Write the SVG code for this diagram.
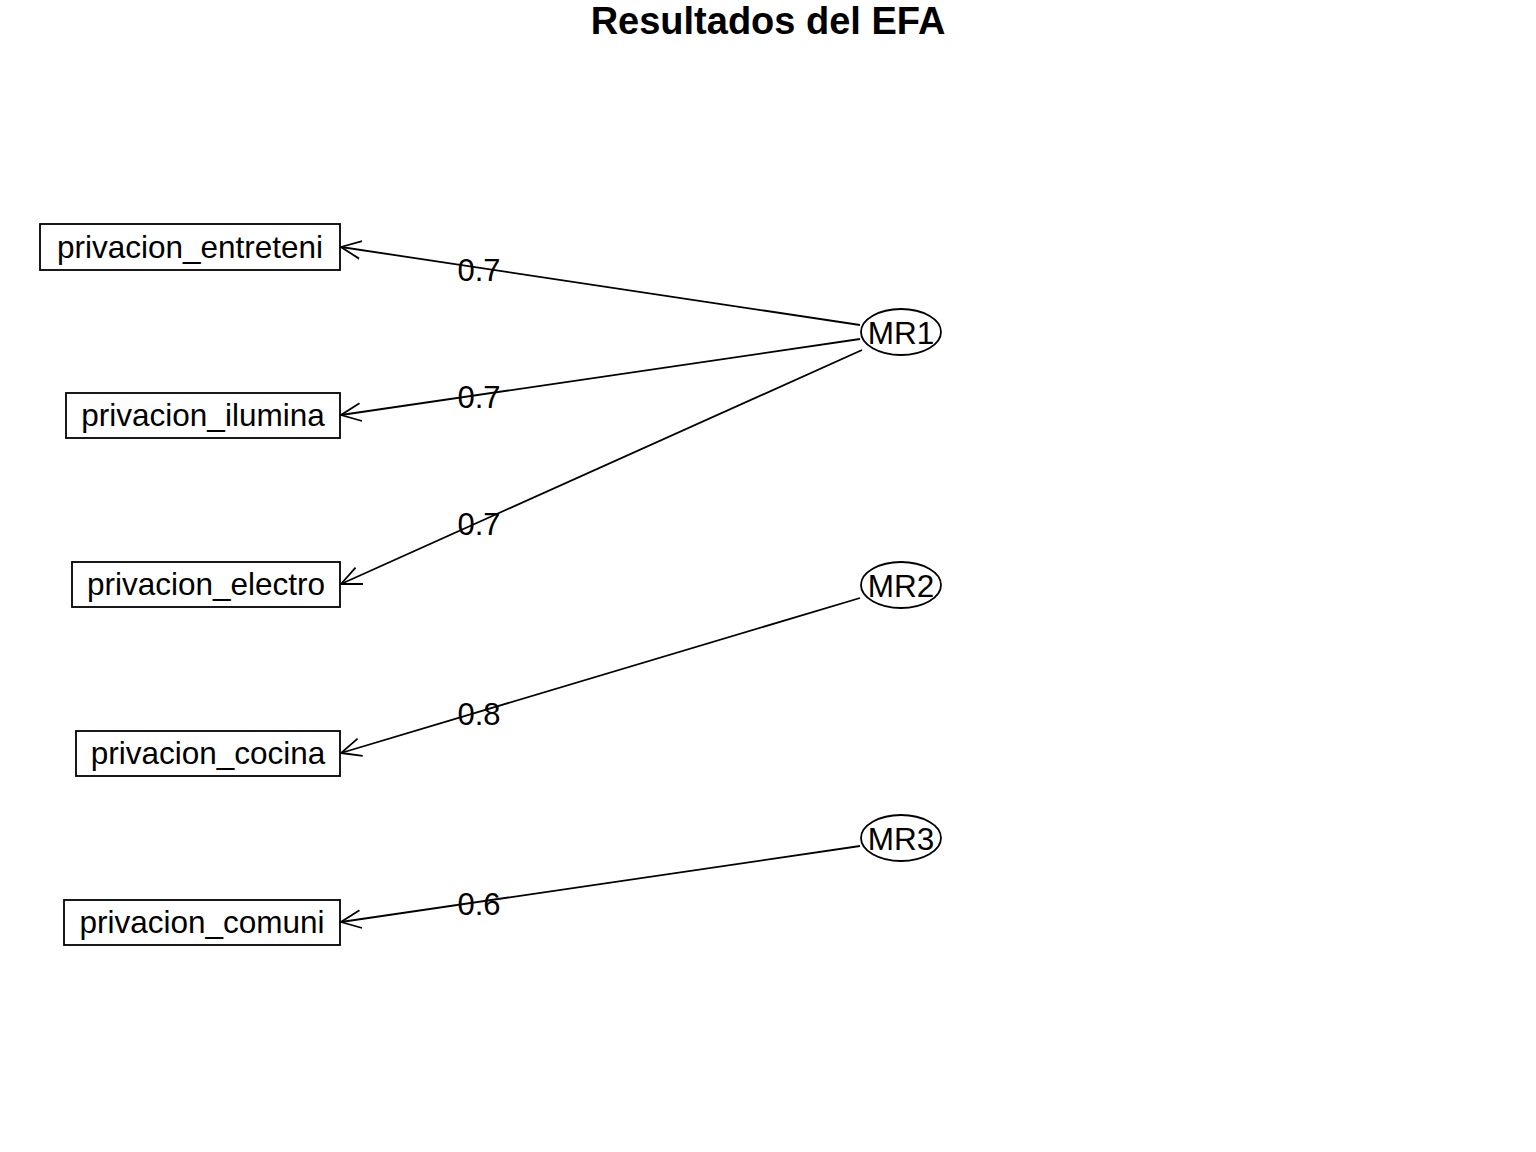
<svg xmlns="http://www.w3.org/2000/svg" width="1536" height="1152" viewBox="0 0 1536 1152">
<style>
text{font-family:"Liberation Sans",Arial,sans-serif;fill:#000}
.t{font-size:38px;font-weight:bold;text-anchor:middle}
.n{font-size:31.5px;text-anchor:middle}
.l{font-size:31px;text-anchor:middle}
rect,ellipse{fill:none;stroke:#000;stroke-width:1.8}
.e{stroke:#000;stroke-width:1.8;fill:none}
</style>
<defs>
<marker id="ah" markerUnits="userSpaceOnUse" markerWidth="30" markerHeight="30" refX="20" refY="10" orient="auto" viewBox="0 0 30 20">
<path d="M0,1 L20,10 L0,19" fill="none" stroke="#000" stroke-width="1.8"/>
</marker>
</defs>
<rect width="1536" height="1152" fill="#fff" style="stroke:none"/>
<text class="t" x="768" y="34">Resultados del EFA</text>
<g id="connectors">
<line class="e" x1="860" y1="325" x2="341" y2="247" marker-end="url(#ah)"/>
<line class="e" x1="860" y1="339" x2="341" y2="415" marker-end="url(#ah)"/>
<line class="e" x1="862" y1="350" x2="341" y2="584" marker-end="url(#ah)"/>
<line class="e" x1="860" y1="598" x2="341" y2="753" marker-end="url(#ah)"/>
<line class="e" x1="860" y1="846" x2="341" y2="922" marker-end="url(#ah)"/>
<text class="l" x="479" y="281">0.7</text>
<text class="l" x="479" y="408">0.7</text>
<text class="l" x="479" y="535">0.7</text>
<text class="l" x="479" y="725">0.8</text>
<text class="l" x="479" y="915">0.6</text>
</g>
<g id="privacion_entreteni"><rect x="40" y="224" width="300" height="46"/><text class="n" x="190" y="258">privacion_entreteni</text></g>
<g id="privacion_ilumina"><rect x="66" y="393" width="274" height="45"/><text class="n" x="203" y="426">privacion_ilumina</text></g>
<g id="privacion_electro"><rect x="72" y="562" width="268" height="45"/><text class="n" x="206" y="595">privacion_electro</text></g>
<g id="privacion_cocina"><rect x="76" y="731" width="264" height="45"/><text class="n" x="208" y="764">privacion_cocina</text></g>
<g id="privacion_comuni"><rect x="64" y="900" width="276" height="45"/><text class="n" x="202" y="933">privacion_comuni</text></g>
<g id="MR1"><ellipse cx="901" cy="332" rx="40" ry="23"/><text class="n" x="901" y="344">MR1</text></g>
<g id="MR2"><ellipse cx="901" cy="585" rx="40" ry="23"/><text class="n" x="901" y="597">MR2</text></g>
<g id="MR3"><ellipse cx="901" cy="838" rx="40" ry="23"/><text class="n" x="901" y="850">MR3</text></g>
</svg>
